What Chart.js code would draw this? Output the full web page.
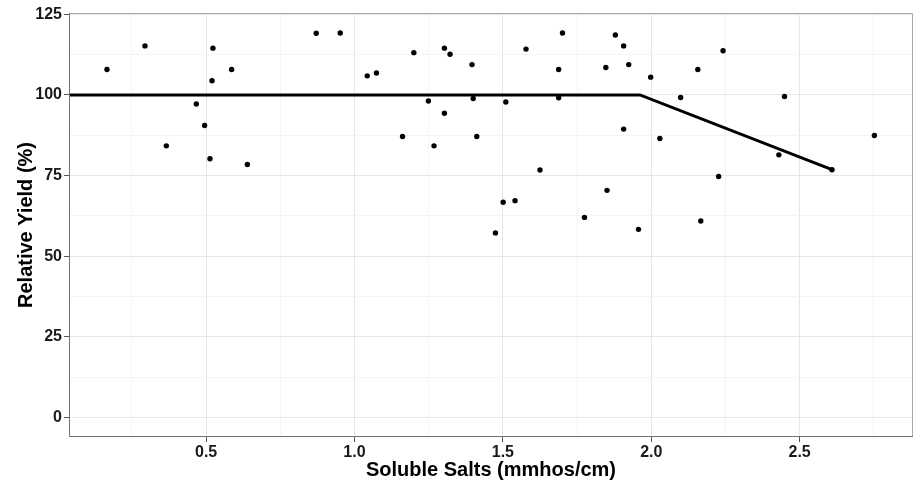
<!DOCTYPE html>
<html>
<head>
<meta charset="utf-8">
<script src="https://cdn.jsdelivr.net/npm/chart.js@4.4.1/dist/chart.umd.min.js"></script>
<style>
  body { margin: 0; background: #fff; }
  canvas { display: block; }
</style>
</head>
<body>
<canvas id="yieldChart" width="917" height="483"></canvas>
<script>
// observed points: soluble salts vs relative yield
const saltX = [0.166, 0.294, 0.366, 0.467, 0.495, 0.513, 0.520, 0.523, 0.586, 0.639,
  0.871, 0.952, 1.043, 1.074, 1.162, 1.200, 1.249, 1.268, 1.303, 1.303,
  1.322, 1.396, 1.400, 1.412, 1.475, 1.501, 1.510, 1.541, 1.578, 1.625,
  1.688, 1.688, 1.701, 1.775, 1.847, 1.851, 1.879, 1.907, 1.907, 1.924,
  1.957, 1.998, 2.029, 2.099, 2.157, 2.167, 2.227, 2.242, 2.430, 2.449,
  2.609, 2.752];
const yieldY = [107.9, 115.2, 84.2, 97.2, 90.5, 80.2, 104.4, 114.5, 107.9, 78.4,
  119.1, 119.2, 105.9, 106.8, 87.1, 113.1, 98.1, 84.2, 114.5, 94.3,
  112.6, 109.4, 98.9, 87.1, 57.2, 66.7, 97.8, 67.2, 114.2, 76.7,
  107.9, 99.1, 119.2, 62.0, 108.5, 70.4, 118.6, 115.2, 89.4, 109.4,
  58.3, 105.5, 86.5, 99.2, 107.9, 60.9, 74.7, 113.7, 81.4, 99.5,
  76.8, 87.4];

// broken-line (threshold) fit
const fitX = [0, 1.962, 2.609];
const fitY = [100, 100, 76.8];

// axis ticks (major get labels, minor only grid)
const xTicks = [0.25, 0.5, 0.75, 1.0, 1.25, 1.5, 1.75, 2.0, 2.25, 2.5, 2.75];
const xMajor = [0.5, 1.0, 1.5, 2.0, 2.5];
const yTicks = [0, 12.5, 25, 37.5, 50, 62.5, 75, 87.5, 100, 112.5, 125];
const yMajor = [0, 25, 50, 75, 100, 125];

const fontFamily = "'Liberation Sans', Arial, sans-serif";
const isMajor = (list, v) => list.some(m => Math.abs(m - v) < 1e-6);

// panel border drawn on top like ggplot
const panelBorder = {
  id: 'panelBorder',
  afterDatasetsDraw(chart) {
    const { ctx, chartArea: a } = chart;
    ctx.save();
    ctx.lineWidth = 1;
    ctx.strokeStyle = '#a9a9a9';
    ctx.beginPath();
    ctx.moveTo(a.left, a.top + 0.5);
    ctx.lineTo(a.right - 0.5, a.top + 0.5);
    ctx.lineTo(a.right - 0.5, a.bottom);
    ctx.stroke();
    ctx.strokeStyle = '#707070';
    ctx.beginPath();
    ctx.moveTo(a.left + 0.5, a.top);
    ctx.lineTo(a.left + 0.5, a.bottom - 0.5);
    ctx.lineTo(a.right, a.bottom - 0.5);
    ctx.stroke();
    ctx.restore();
  }
};

const ctx = document.getElementById('yieldChart').getContext('2d');
new Chart(ctx, {
  type: 'scatter',
  data: {
    datasets: [{
      label: 'Fit',
      type: 'line',
      data: fitX.map((x, i) => ({ x: x, y: fitY[i] })),
      borderColor: '#000',
      borderWidth: 3,
      pointRadius: 0,
      fill: false,
      tension: 0,
      clip: 0,
      order: 1
    }, {
      label: 'Observed',
      data: saltX.map((x, i) => ({ x: x, y: yieldY[i] })),
      backgroundColor: '#000',
      borderColor: '#000',
      borderWidth: 0,
      pointRadius: 2.7,
      order: 0
    }]
  },
  options: {
    responsive: false,
    animation: false,
    layout: { padding: { top: 13, right: 3, left: 0, bottom: 0 } },
    plugins: {
      legend: { display: false },
      tooltip: { enabled: false }
    },
    scales: {
      x: {
        type: 'linear',
        min: 0.038,
        max: 2.882,
        afterFit: (s) => { s.height = 46; },
        afterBuildTicks: (s) => { s.ticks = xTicks.map(v => ({ value: v })); },
        border: { display: false },
        grid: {
          color: (c) => isMajor(xMajor, c.tick.value) ? '#e6e6e6' : '#f4f4f4',
          tickColor: (c) => isMajor(xMajor, c.tick.value) ? '#555' : 'rgba(0,0,0,0)',
          tickLength: 5,
          lineWidth: 1
        },
        ticks: {
          padding: 1,
          autoSkip: false,
          maxRotation: 0,
          color: '#1a1a1a',
          font: { family: fontFamily, size: 16, weight: 'bold' },
          callback: (v) => isMajor(xMajor, v) ? v.toFixed(1) : ''
        },
        title: {
          display: true,
          text: 'Soluble Salts (mmhos/cm)',
          color: '#000',
          padding: { top: 0, bottom: 1 },
          font: { family: fontFamily, size: 20, weight: 'bold' }
        }
      },
      y: {
        min: -6.1,
        max: 125.4,
        afterFit: (s) => { s.width = 69; },
        afterBuildTicks: (s) => { s.ticks = yTicks.map(v => ({ value: v })); },
        border: { display: false },
        grid: {
          color: (c) => isMajor(yMajor, c.tick.value) ? '#e6e6e6' : '#f4f4f4',
          tickColor: (c) => isMajor(yMajor, c.tick.value) ? '#555' : 'rgba(0,0,0,0)',
          tickLength: 5,
          lineWidth: 1
        },
        ticks: {
          padding: 2,
          autoSkip: false,
          color: '#1a1a1a',
          font: { family: fontFamily, size: 16, weight: 'bold' },
          callback: (v) => isMajor(yMajor, v) ? String(v) : ''
        },
        title: {
          display: true,
          text: 'Relative Yield (%)',
          color: '#000',
          padding: { top: 14, bottom: 0 },
          font: { family: fontFamily, size: 20, weight: 'bold' }
        }
      }
    }
  },
  plugins: [panelBorder]
});
</script>
</body>
</html>
